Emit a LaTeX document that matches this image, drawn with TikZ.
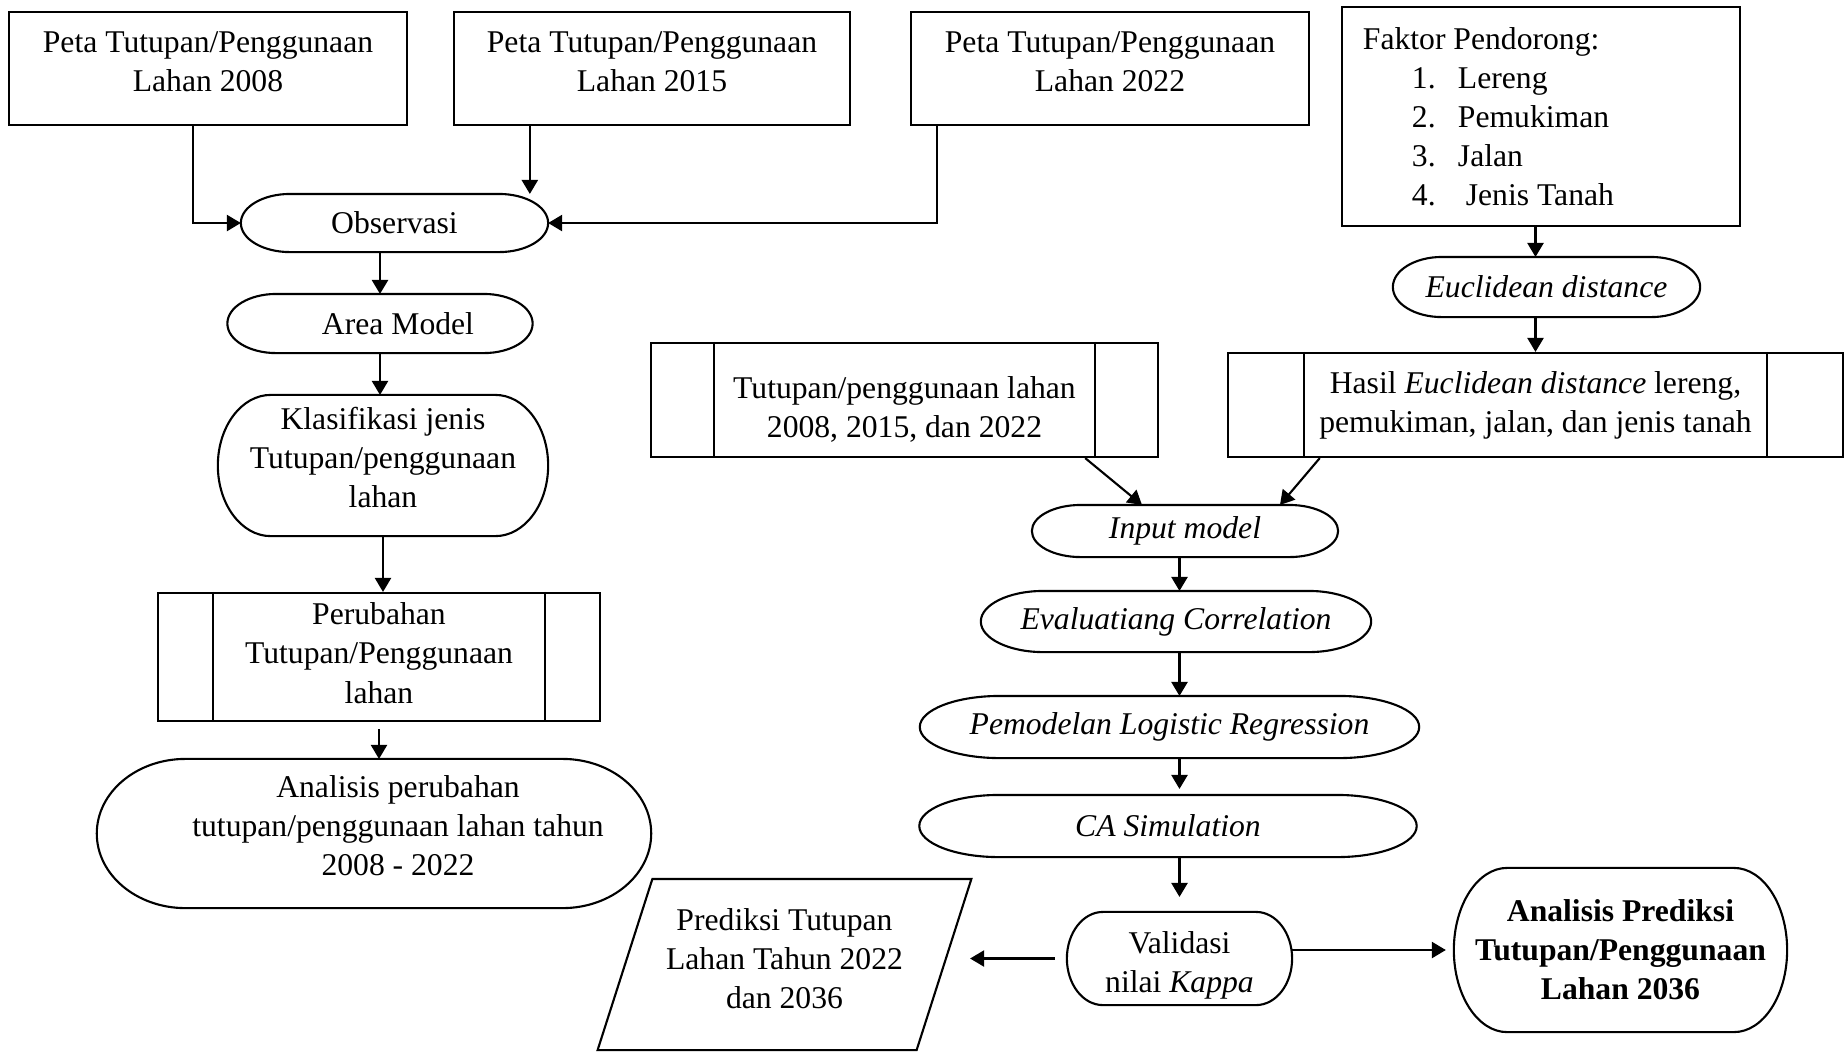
\documentclass[tikz,border=0pt]{standalone}
\usepackage{fontspec}
\setmainfont{Liberation Serif}
\usetikzlibrary{arrows.meta,calc,shapes.geometric}

\newcommand{\termline}[1]{%
  \draw let \p1=(#1.north east), \p2=(#1.south west),
    \n1={0.16*(\x1-\x2)}, \n2={0.5*(\y1-\y2)} in
    ({\x2+\n1},\y1) -- ({\x1-\n1},\y1)
    arc[start angle=90, end angle=-90, x radius=\n1, y radius=\n2]
    -- ({\x2+\n1},\y2)
    arc[start angle=270, end angle=90, x radius=\n1, y radius=\n2] -- cycle;}

\begin{document}
\begin{tikzpicture}[
    x=0.01cm, y=-0.01cm,
    line width=0.6pt,
    >={Triangle[length=4pt,width=4.6pt]},
    every node/.style={
      font=\fontsize{9}{11.1}\selectfont,
      inner sep=1pt
    },
    box/.style={draw, rectangle, align=center},
    term/.style={rectangle, align=center},
    para/.style={draw, trapezium, trapezium left angle=67,
      trapezium right angle=113, trapezium stretches=true, align=center}
]
\useasboundingbox (0,0) rectangle (1844,1053);

\node[box, minimum width=3.98cm, minimum height=1.13cm] (peta08) at (208,68.5) {Peta Tutupan/Penggunaan\\Lahan 2008\rule[-0.14cm]{0pt}{0pt}};
\node[box, minimum width=3.96cm, minimum height=1.13cm] (peta15) at (652,68.5) {Peta Tutupan/Penggunaan\\Lahan 2015\rule[-0.14cm]{0pt}{0pt}};
\node[box, minimum width=3.98cm, minimum height=1.13cm] (peta22) at (1110,68.5) {Peta Tutupan/Penggunaan\\Lahan 2022\rule[-0.14cm]{0pt}{0pt}};
\node[box, align=flush left, text width=3.56cm, inner xsep=0.21cm, minimum height=2.19cm] (faktor) at (1541,116.5) {Faktor Pendorong:\\
  \hspace*{0.49cm}\makebox[0.46cm][l]{1.}Lereng\\
  \hspace*{0.49cm}\makebox[0.46cm][l]{2.}Pemukiman\\
  \hspace*{0.49cm}\makebox[0.46cm][l]{3.}Jalan\\
  \hspace*{0.49cm}\makebox[0.46cm][l]{4.}\ Jenis Tanah};

\node[term, minimum width=3.05cm, minimum height=0.56cm] (obs) at (394.5,223) {Observasi};
\node[term, minimum width=3.03cm, minimum height=0.57cm] (area) at (380,323.5) {\hspace*{0.36cm}Area Model};
\node[term, minimum width=3.28cm, minimum height=1.39cm] (klas) at (383,465.5) {Klasifikasi jenis\\Tutupan/penggunaan\\lahan\rule[-0.16cm]{0pt}{0pt}};
\node[box, minimum width=4.42cm, minimum height=1.28cm] (perub) at (379,657) {Perubahan\\Tutupan/Penggunaan\\lahan\rule[-0.08cm]{0pt}{0pt}};
\node[term, minimum width=5.52cm, minimum height=1.47cm] (anal) at (374,833.5) {\hspace*{0.48cm}Analisis perubahan\\\hspace*{0.48cm}tutupan/penggunaan lahan tahun\\\hspace*{0.48cm}2008 - 2022\rule[-0.16cm]{0pt}{0pt}};

\node[term, minimum width=3.05cm, minimum height=0.58cm] (euc) at (1546.5,287) {\textit{Euclidean distance}};
\node[box, minimum width=5.07cm, minimum height=1.14cm] (tutup) at (904.5,400) {\rule{0pt}{0.40cm}Tutupan/penggunaan lahan\\2008, 2015, dan 2022};
\node[box, minimum width=6.15cm, minimum height=1.04cm] (hasil) at (1535.5,405) {Hasil \textit{Euclidean distance} lereng,\\pemukiman, jalan, dan jenis tanah};
\node[term, minimum width=3.04cm, minimum height=0.50cm] (input) at (1185,531) {\textit{Input model}};
\node[term, minimum width=3.88cm, minimum height=0.59cm] (eval) at (1176,621.5) {\textit{Evaluatiang Correlation}};
\node[term, minimum width=4.97cm, minimum height=0.60cm] (pem) at (1169.5,727) {\textit{Pemodelan Logistic Regression}};
\node[term, minimum width=4.95cm, minimum height=0.60cm] (ca) at (1168,826) {\textit{CA Simulation}};
\node[term, minimum width=2.23cm, minimum height=0.91cm] (valid) at (1179.5,958.5) {\rule{0pt}{0.36cm}Validasi\\nilai \textit{Kappa}};
\node[para, minimum width=3.77cm, minimum height=1.71cm] (pred) at (784.5,964.5) {Prediksi Tutupan\\Lahan Tahun 2022\\dan 2036\rule[-0.12cm]{0pt}{0pt}};
\node[term, font=\fontsize{9}{11.1}\selectfont\bfseries, minimum width=3.31cm, minimum height=1.62cm] (apred) at (1620.5,950) {Analisis Prediksi\\Tutupan/Penggunaan\\Lahan 2036};

\foreach \nd in {obs,area,klas,anal,euc,input,eval,pem,ca,valid,apred}
  \termline{\nd};

\foreach \nd/\gap in {perub/56, tutup/64, hasil/77} {
  \draw ($(\nd.north west)+(\gap,0)$) -- ($(\nd.south west)+(\gap,0)$);
  \draw ($(\nd.north east)+(-\gap,0)$) -- ($(\nd.south east)+(-\gap,0)$);
}

\draw[->] ($(peta08.south)+(-15,0)$) |- (obs.west);
\draw[->] ($(peta15.south west)+(77,0)$) coordinate (a15) -- (a15 |- obs.north);
\draw[->] ($(peta22.south west)+(27,0)$) |- (obs.east);
\draw[->] (obs.south -| area.north) -- (area.north);
\draw[->] (area.south) -- (area.south |- klas.north);
\draw[->] (klas.south) -- (klas.south |- perub.north);
\draw[->] ($(perub.south)+(0,7)$) -- (perub.south |- anal.north);

\draw[->] (faktor.south -| hasil.north) -- (hasil.north |- euc.north);
\draw[->] (euc.south -| hasil.north) -- (hasil.north);
\draw[->] ($(tutup.south east)+(-74,0)$) -- ($(input.north)+(-43,0)$);
\draw[->] ($(hasil.south west)+(93,0)$) -- ($(input.north)+(95,0)$);
\draw[->] (input.south -| valid.north) -- (eval.north -| valid.north);
\draw[->] (eval.south -| valid.north) -- (pem.north -| valid.north);
\draw[->] (pem.south -| valid.north) -- ($(ca.north -| valid.north)+(0,-6)$);
\draw[->] (ca.south -| valid.north) -- ($(valid.north)+(0,-15)$);
\draw[->] ($(valid.west)+(-12,0)$) -- ($(valid.west -| pred.east)+(25,0)$);
\draw[->] (valid.east |- apred.west) -- ($(apred.west)+(-8,0)$);
\end{tikzpicture}
\end{document}
